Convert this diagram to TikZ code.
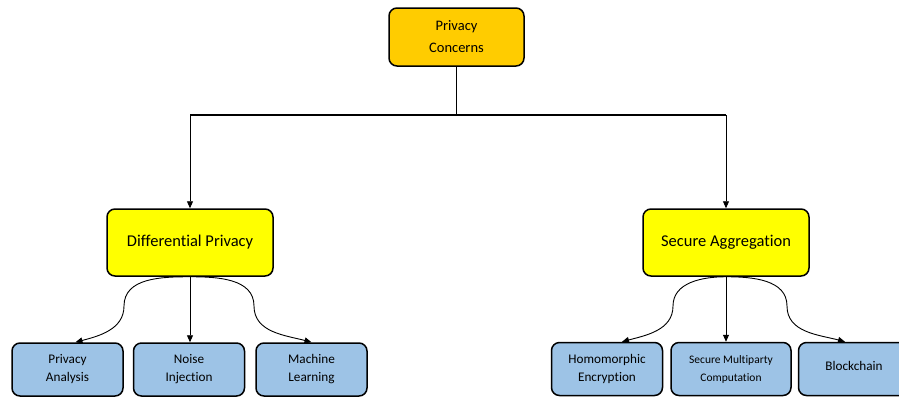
\documentclass[tikz,border=0pt]{standalone}
\usepackage{fontspec}
\setmainfont{Carlito}[Ligatures=NoCommon]
\usetikzlibrary{arrows.meta,positioning}
\definecolor{rootgold}{HTML}{FFCC00}
\definecolor{midyellow}{HTML}{FFFF00}
\definecolor{leafblue}{HTML}{9DC3E6}

\begin{document}
\begin{tikzpicture}[x=1pt,y=-1pt,
    box/.style={draw,line width=1.5pt,rounded corners=8pt,align=center,inner sep=0pt},
    topic/.style={box,fill=rootgold,minimum width=135pt,minimum height=58pt,
                  font=\fontsize{14.5}{22}\selectfont},
    method/.style={box,fill=midyellow,minimum width=166pt,minimum height=67pt,
                   font=\fontsize{16.5}{18}\selectfont},
    leaf/.style={box,fill=leafblue,minimum width=111pt,minimum height=53pt,
                 font=\fontsize{13.2}{18}\selectfont},
    link/.style={-{Triangle[length=7pt,width=6pt]},line width=0.9pt}]

  \useasboundingbox (0,0) rectangle (899,400);

  \node[topic]  (root) at (456.5,37)  {Privacy\\Concerns};
  \node[method] (dp)   at (190,242.5) {Differential Privacy};
  \node[method] (sa)   at (726,242.5) {Secure Aggregation};

  \node[leaf] (pa)   at (67.5,369.5)        {Privacy\\Analysis};
  \node[leaf] (ni)   [right=9pt of pa]      {Noise\\Injection};
  \node[leaf] (ml)   [right=10pt of ni]     {Machine\\Learning};
  \node[leaf] (he)   at (607,369)           {Homomorphic\\Encryption};
  \node[leaf, minimum width=120pt, font=\fontsize{11.5}{18}\selectfont]
              (smpc) [right=7pt of he]      {Secure Multiparty\\Computation};
  \node[leaf, text depth=7pt] (bc) [right=6pt of smpc] {Blockchain};

  \coordinate (bar) at (456.5,115);
  \coordinate (dpl) at (124,306);
  \coordinate (dpr) at (254,306);
  \coordinate (sal) at (673,306);
  \coordinate (sar) at (787,306);

  % root to the two methods
  \draw[line width=1.3pt] (root.south) -- (bar)
        (dp.north |- bar) -- (sa.north |- bar);
  \draw[link] (dp.north |- bar) -- (dp.north);
  \draw[link] (sa.north |- bar) -- (sa.north);

  % differential privacy
  \draw[link] (dp.south) to[out=180,in=90] (dpl) to[out=-90,in=15] ([xshift=8pt]pa.north);
  \draw[link] (dp.south) -- (dp.south |- ni.north);
  \draw[link] (dp.south) to[out=0,in=90] (dpr) to[out=-90,in=165] (ml.north);

  % secure aggregation
  \draw[link] (sa.south) to[out=180,in=90] (sal) to[out=-90,in=15] ([xshift=15pt]he.north);
  \draw[link] (sa.south) -- (sa.south |- smpc.north);
  \draw[link] (sa.south) to[out=0,in=90] (sar) to[out=-90,in=165] ([xshift=-9pt]bc.north);
\end{tikzpicture}
\end{document}
